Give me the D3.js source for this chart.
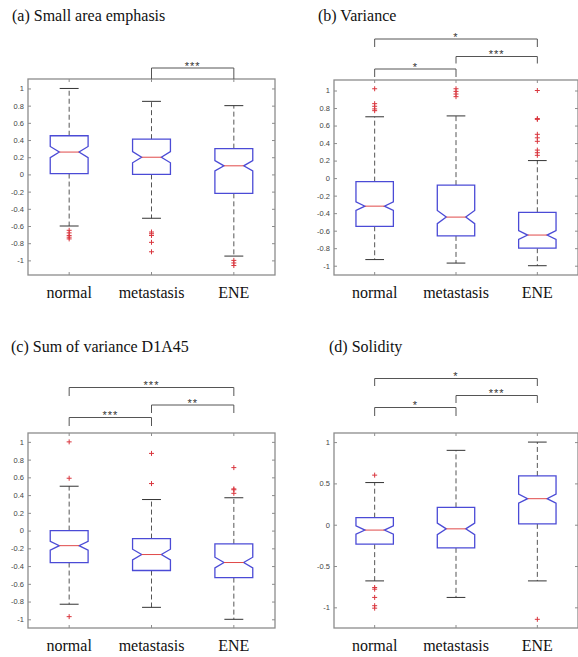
<!DOCTYPE html>
<html>
<head>
<meta charset="utf-8">
<script src="https://cdnjs.cloudflare.com/ajax/libs/d3/7.8.5/d3.min.js"></script>
<style>
  body { margin: 0; background: #fff; }
  svg { display: block; }
</style>
</head>
<body>
<svg id="chart" width="578" height="657"></svg>
<script>
// groups on the x axis
var groups = ["normal", "metastasis", "ENE"];

// box stats per group: [whiskerLo, q1, median, q3, whiskerHi, notchHalf]
var saeBoxes = [
  [-0.60, 0.01, 0.26, 0.45, 1.00, 0.065],
  [-0.51, 0.00, 0.20, 0.41, 0.85, 0.065],
  [-0.95, -0.22, 0.10, 0.30, 0.80, 0.06]
];
var saeOutliers = [
  [-0.65, -0.68, -0.71, -0.73, -0.75],
  [-0.67, -0.69, -0.71, -0.79, -0.90],
  [-1.00, -1.03, -1.06]
];

var varBoxes = [
  [-0.93, -0.55, -0.32, -0.04, 0.70, 0.05],
  [-0.97, -0.66, -0.445, -0.08, 0.71, 0.075],
  [-1.00, -0.80, -0.65, -0.39, 0.20, 0.05]
];
var varOutliers = [
  [1.02, 0.85, 0.82, 0.79, 0.77],
  [1.02, 0.99, 0.96, 0.93],
  [1.00, 0.68, 0.67, 0.50, 0.46, 0.42, 0.32, 0.29, 0.26]
];

var sovBoxes = [
  [-0.83, -0.36, -0.17, 0.00, 0.50, 0.05],
  [-0.865, -0.45, -0.27, -0.09, 0.35, 0.06],
  [-1.00, -0.53, -0.36, -0.15, 0.37, 0.06]
];
var sovOutliers = [
  [1.00, 0.59, -0.97],
  [0.87, 0.53],
  [0.71, 0.47, 0.46, 0.42]
];

var solBoxes = [
  [-0.68, -0.235, -0.065, 0.085, 0.51, 0.05],
  [-0.88, -0.28, -0.05, 0.21, 0.90, 0.07],
  [-0.68, 0.01, 0.315, 0.59, 1.00, 0.055]
];
var solOutliers = [
  [0.60, -0.76, -0.78, -0.88, -0.98, -1.01],
  [],
  [-1.145]
];

// significance pairs: [fromGroup, toGroup, label]
var saeSig = [[1, 2, "***"]];
var varSig = [[0, 1, "*"], [1, 2, "***"], [0, 2, "*"]];
var sovSig = [[0, 1, "***"], [1, 2, "**"], [0, 2, "***"]];
var solSig = [[0, 1, "*"], [1, 2, "***"], [0, 2, "*"]];

var tick02 = [-1, -0.8, -0.6, -0.4, -0.2, 0, 0.2, 0.4, 0.6, 0.8, 1];
var tick05 = [-1, -0.5, 0, 0.5, 1];

// layout of each panel (frame box, y domain, bracket line heights, leg bottoms)
var panels = [
  { title: "(a) Small area emphasis", tx: 12, ty: 21, x0: 28, x1: 275, y0: 79, y1: 275,
    dom: [-1.17, 1.11], ticks: tick02, boxes: saeBoxes, outl: saeOutliers, sig: saeSig,
    bY: [68], bEnd: [79] },
  { title: "(b) Variance", tx: 318, ty: 21, x0: 334, x1: 578, y0: 80, y1: 275,
    dom: [-1.106, 1.12], ticks: tick02, boxes: varBoxes, outl: varOutliers, sig: varSig,
    bY: [69, 56.5, 39], bEnd: [77, 63.5, 47] },
  { title: "(c) Sum of variance D1A45", tx: 11, ty: 352, x0: 28, x1: 275, y0: 433, y1: 628,
    dom: [-1.098, 1.10], ticks: tick02, boxes: sovBoxes, outl: sovOutliers, sig: sovSig,
    bY: [417.5, 405, 387.5], bEnd: [426, 413, 396] },
  { title: "(d) Solidity", tx: 329, ty: 352, x0: 334, x1: 578, y0: 433, y1: 628,
    dom: [-1.25, 1.11], ticks: tick05, boxes: solBoxes, outl: solOutliers, sig: solSig,
    bY: [407.5, 395.5, 378.5], bEnd: [416, 403, 386] }
];

var svg = d3.select("#chart");
var serif = "'Liberation Serif'";
var sans = "'Liberation Sans'";
var frameCol = "#8c8c8c";
var boxCol = "#4b4bd6";
var medCol = "#e04a4a";

panels.forEach(drawPanel);

function drawPanel(p) {
  var g = svg.append("g");

  var x = d3.scaleBand().domain(groups).range([p.x0, p.x1]).padding(0);
  var y = d3.scaleLinear().domain(p.dom).range([p.y1, p.y0]);
  var fmt = function (d) { return String(+d.toFixed(1)); };

  // title
  svg.append("text")
    .style("font-family", serif)
    .attr("x", p.tx).attr("y", p.ty)
    .attr("font-size", 16)
    .attr("fill", "#111")
    .text(p.title);

  // axes (ticks inside, matlab style)
  var left = g.append("g").attr("transform", "translate(" + p.x0 + ",0)")
    .call(d3.axisLeft(y).tickValues(p.ticks).tickFormat(fmt).tickSize(-3).tickSizeOuter(0).tickPadding(4));
  var right = g.append("g").attr("transform", "translate(" + p.x1 + ",0)")
    .call(d3.axisRight(y).tickValues(p.ticks).tickFormat("").tickSize(-3).tickSizeOuter(0));
  var bottom = g.append("g").attr("transform", "translate(0," + p.y1 + ")")
    .call(d3.axisBottom(x).tickSize(-3).tickSizeOuter(0).tickPadding(12));
  var top = g.append("g").attr("transform", "translate(0," + p.y0 + ")")
    .call(d3.axisTop(x).tickFormat("").tickSize(-3).tickSizeOuter(0));

  [left, right, bottom, top].forEach(function (a) {
    a.select(".domain").remove();
    a.selectAll(".tick line").attr("stroke", frameCol);
  });
  left.selectAll(".tick text")
    .style("font-family", sans)
    .attr("font-size", 7.5)
    .attr("fill", "#444");
  bottom.selectAll(".tick text")
    .style("font-family", serif)
    .attr("font-size", 16)
    .attr("fill", "#111");

  // frame
  g.append("rect")
    .attr("x", p.x0).attr("y", p.y0)
    .attr("width", p.x1 - p.x0).attr("height", p.y1 - p.y0)
    .attr("fill", "none").attr("stroke", frameCol).attr("stroke-width", 1.3);

  var bw = x.bandwidth() * 0.46;
  var hw = bw / 2;
  var ni = hw * 0.48;

  p.boxes.forEach(function (b, i) {
    var cx = x(groups[i]) + x.bandwidth() / 2;
    var lo = b[0], q1 = b[1], med = b[2], q3 = b[3], hi = b[4], n = b[5];

    // whiskers
    g.append("line").attr("x1", cx).attr("x2", cx).attr("y1", y(q3)).attr("y2", y(hi))
      .attr("stroke", "#555").attr("stroke-width", 1).attr("stroke-dasharray", "5,3");
    g.append("line").attr("x1", cx).attr("x2", cx).attr("y1", y(q1)).attr("y2", y(lo))
      .attr("stroke", "#555").attr("stroke-width", 1).attr("stroke-dasharray", "5,3");
    [lo, hi].forEach(function (v) {
      g.append("line").attr("x1", cx - hw / 2).attr("x2", cx + hw / 2).attr("y1", y(v)).attr("y2", y(v))
        .attr("stroke", "#333").attr("stroke-width", 1);
    });

    // notched box
    var path = d3.path();
    path.moveTo(cx - hw, y(q3));
    path.lineTo(cx + hw, y(q3));
    path.lineTo(cx + hw, y(med + n));
    path.lineTo(cx + hw - ni, y(med));
    path.lineTo(cx + hw, y(med - n));
    path.lineTo(cx + hw, y(q1));
    path.lineTo(cx - hw, y(q1));
    path.lineTo(cx - hw, y(med - n));
    path.lineTo(cx - hw + ni, y(med));
    path.lineTo(cx - hw, y(med + n));
    path.closePath();
    g.append("path").attr("d", path.toString())
      .attr("fill", "#fff").attr("stroke", boxCol).attr("stroke-width", 1.3);

    g.append("line").attr("x1", cx - hw + ni).attr("x2", cx + hw - ni)
      .attr("y1", y(med)).attr("y2", y(med))
      .attr("stroke", medCol).attr("stroke-width", 1);

    // outliers
    p.outl[i].forEach(function (v) {
      var oy = y(v);
      g.append("path")
        .attr("d", "M" + (cx - 2.5) + "," + oy + "h5M" + cx + "," + (oy - 2.5) + "v5")
        .attr("stroke", "#d9363e").attr("stroke-width", 1);
    });
  });

  // significance brackets
  p.sig.forEach(function (s, k) {
    var xa = x(groups[s[0]]) + x.bandwidth() / 2;
    var xb = x(groups[s[1]]) + x.bandwidth() / 2;
    var by = p.bY[k], be = p.bEnd[k];
    g.append("path")
      .attr("d", "M" + xa + "," + be + "V" + by + "H" + xb + "V" + be)
      .attr("fill", "none").attr("stroke", "#555").attr("stroke-width", 1);
    g.append("text")
      .attr("x", (xa + xb) / 2).attr("y", by + 1.5)
      .attr("text-anchor", "middle")
      .style("font-family", sans)
      .style("letter-spacing", "1px")
      .attr("font-size", 11)
      .attr("fill", "#333")
      .text(s[2]);
  });
}
</script>
</body>
</html>
